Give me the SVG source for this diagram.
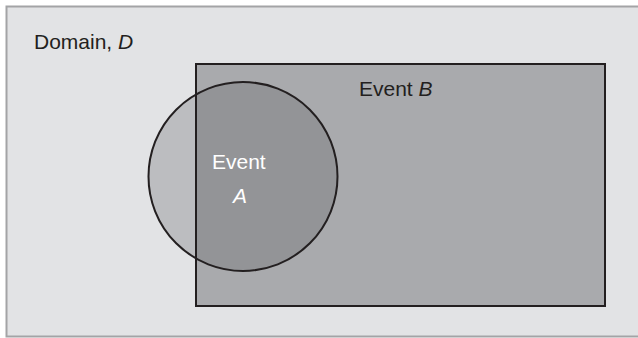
<svg xmlns="http://www.w3.org/2000/svg" width="638" height="338" viewBox="0 0 638 338">
<style>
.lbl{font-family:"Liberation Sans",Arial,sans-serif;font-size:21px;fill:#231f20}
.w{fill:#ffffff}
.edge{fill:none;stroke:#231f20;stroke-width:2}
</style>
<defs>
<clipPath id="clipB"><rect x="196" y="64" width="409" height="242"/></clipPath>
</defs>
<g id="domain">
<rect x="6.5" y="6.5" width="633" height="330" fill="#e2e3e5" stroke="#a3a4a6" stroke-width="2"/>
<text class="lbl" x="34" y="49">Domain, <tspan font-style="italic">D</tspan></text>
</g>
<g id="eventB">
<rect x="196" y="64" width="409" height="242" fill="#a9aaad"/>
</g>
<g id="eventA">
<circle cx="243" cy="176.5" r="94.5" fill="#bcbdc0"/>
<circle cx="243" cy="176.5" r="94.5" fill="#939497" clip-path="url(#clipB)"/>
</g>
<g id="outlines">
<rect class="edge" x="196" y="64" width="409" height="242"/>
<circle class="edge" cx="243" cy="176.5" r="94.5"/>
</g>
<g id="labels">
<text class="lbl" x="359" y="96">Event <tspan font-style="italic">B</tspan></text>
<text class="lbl w" x="212" y="169">Event</text>
<text class="lbl w" x="233" y="203" font-style="italic">A</text>
</g>
</svg>
